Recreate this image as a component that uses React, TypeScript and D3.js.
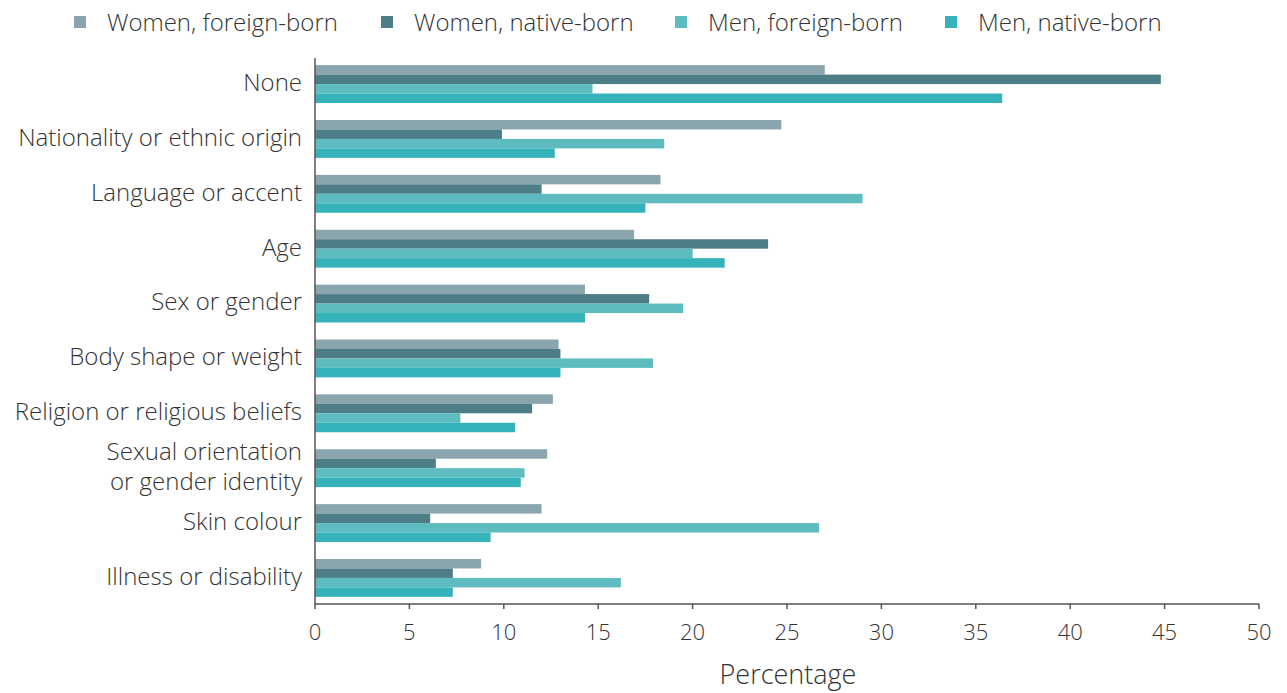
import React, { useMemo } from 'react'
import * as d3 from 'd3'

const categories = [
    'None',
    'Nationality or ethnic origin',
    'Language or accent',
    'Age',
    'Sex or gender',
    'Body shape or weight',
    'Religion or religious beliefs',
    'Sexual orientation\nor gender identity',
    'Skin colour',
    'Illness or disability',
]

const seriesNames = ['Women, foreign-born', 'Women, native-born', 'Men, foreign-born', 'Men, native-born']
const seriesColors = ['#8aa5ad', '#4d7d87', '#5ebcc1', '#36b3ba']

const womenForeign = [27.0, 24.7, 18.3, 16.9, 14.3, 12.9, 12.6, 12.3, 12.0, 8.8]
const womenNative = [44.8, 9.9, 12.0, 24.0, 17.7, 13.0, 11.5, 6.4, 6.1, 7.3]
const menForeign = [14.7, 18.5, 29.0, 20.0, 19.5, 17.9, 7.7, 11.1, 26.7, 16.2]
const menNative = [36.4, 12.7, 17.5, 21.7, 14.3, 13.0, 10.6, 10.9, 9.3, 7.3]

const xTicks = [0, 5, 10, 15, 20, 25, 30, 35, 40, 45, 50]

const width = 1287
const height = 693
const marginLeft = 315
const plotRight = 1259
const plotTop = 58
const plotBottom = 604
const font = '"Open Sans", sans-serif'
const textColor = '#333'

const App = () => {
    const series = [womenForeign, womenNative, menForeign, menNative]

    const xScale = useMemo(() => (
        d3.scaleLinear()
            .domain([0, 50])
            .range([marginLeft, plotRight])
    ), [])

    const yScale = useMemo(() => (
        d3.scaleBand<string>()
            .domain(categories)
            .range([plotTop, plotBottom])
            .paddingInner(0.31)
            .paddingOuter(0.13)
    ), [])

    const inner = useMemo(() => (
        d3.scaleBand<string>()
            .domain(seriesNames)
            .range([0, yScale.bandwidth()])
    ), [yScale])

    const legendX = [74, 381, 675, 945]

    return (
        <svg width={width} height={height} style={{ position: 'absolute', left: 0, top: 0 }}>
            {/* legend */}
            {seriesNames.map((name, i) => (
                <g key={name}>
                    <rect x={legendX[i]} y={16} width={12} height={12} fill={seriesColors[i]} />
                    <text x={legendX[i] + 33} y={23} dy="0.33em" fontFamily={font} fontWeight={300}
                        fontSize={24} fill={textColor}>{name}</text>
                </g>
            ))}

            {/* bars */}
            {categories.map((cat, ci) => (
                <g key={cat} transform={`translate(0 ${yScale(cat)})`}>
                    {series.map((vals, si) => (
                        <rect key={si}
                            x={xScale(0)}
                            y={inner(seriesNames[si])}
                            width={xScale(vals[ci]) - xScale(0)}
                            height={inner.bandwidth()}
                            fill={seriesColors[si]} />
                    ))}
                </g>
            ))}

            {/* category labels */}
            {categories.map(cat => {
                const lines = cat.split('\n')
                const cy = (yScale(cat) ?? 0) + yScale.bandwidth() / 2
                return (
                    <text key={cat} x={marginLeft - 13} textAnchor="end" fontFamily={font} fontWeight={300}
                        fontSize={24} fill={textColor}>
                        {lines.map((l, li) => (
                            <tspan key={li} x={marginLeft - 13}
                                y={cy - 1 + (li - (lines.length - 1) / 2) * 30} dy="0.33em">{l}</tspan>
                        ))}
                    </text>
                )
            })}

            {/* axes */}
            <line x1={marginLeft} x2={marginLeft} y1={plotTop} y2={plotBottom} stroke="#555" strokeWidth={1.5} />
            <line x1={marginLeft} x2={plotRight} y1={plotBottom} y2={plotBottom} stroke="#555" strokeWidth={1.5} />
            {xTicks.map(t => (
                <g key={t} transform={`translate(${xScale(t)} ${plotBottom})`}>
                    <line y1={0} y2={5} stroke="#555" strokeWidth={1.5} />
                    <text y={29} dy="0.33em" textAnchor="middle" fontFamily={font} fontWeight={300}
                        fontSize={22} fill={textColor}>{t}</text>
                </g>
            ))}
            <text x={(marginLeft + plotRight) / 2 + 1} y={675} dy="0.33em" textAnchor="middle" fontFamily={font}
                fontWeight={300} fontSize={27} fill={textColor}>Percentage</text>
        </svg>
    )
}

export default App
